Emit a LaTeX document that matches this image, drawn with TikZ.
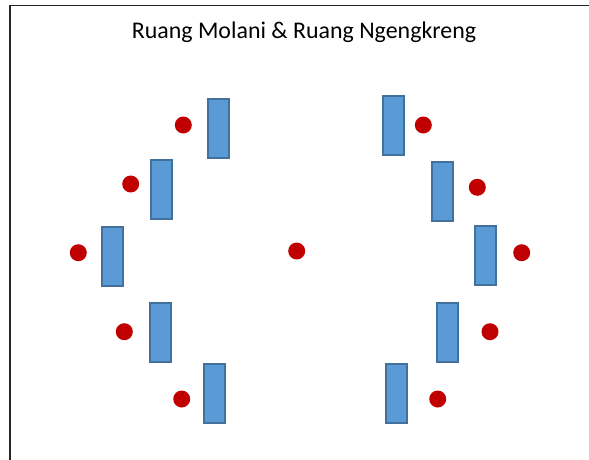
\documentclass[tikz,border=0pt]{standalone}
\usepackage{fontspec}
\setmainfont{Carlito}
\definecolor{boxfill}{RGB}{91,155,213}
\definecolor{boxline}{RGB}{65,113,156}
\definecolor{dotred}{RGB}{192,0,0}
\begin{document}
\begin{tikzpicture}[x=1pt,y=-1pt,
  seat/.style={draw=boxline,fill=boxfill,line width=2pt,minimum width=21pt,minimum height=59pt,inner sep=0pt},
  person/.style={circle,fill=dotred,draw=none,minimum size=17pt,inner sep=0pt}]
\useasboundingbox (0,0) rectangle (589,459);
\draw[line width=1.5pt,draw=black!85] (10,470) -- (10,5.5) -- (600,5.5);
\node[anchor=base,font=\fontsize{23.9}{28}\selectfont] (title) at (304,38) {Ruang Molani \& Ruang Ngengkreng};
% left seats
\node[seat] (l1) at (218,128.5) {};
\node[seat] (l2) at (161.5,189.5) {};
\node[seat] (l3) at (112.3,256.6) {};
\node[seat] (l4) at (160.3,332.3) {};
\node[seat] (l5) at (214.3,393) {};
% right seats
\node[seat] (r1) at (393.3,125.3) {};
\node[seat] (r2) at (442.3,191.3) {};
\node[seat] (r3) at (485.3,255.3) {};
\node[seat] (r4) at (447.5,332.3) {};
\node[seat] (r5) at (396.5,393) {};
% people
\node[person] (p1) at (183.3,125) {};
\node[person] (p2) at (130.7,184) {};
\node[person] (p3) at (78.3,252.7) {};
\node[person] (p4) at (124.3,331.7) {};
\node[person] (p5) at (181.7,399) {};
\node[person] (pc) at (296.7,251) {};
\node[person] (q1) at (423.3,125) {};
\node[person] (q2) at (477.3,187.3) {};
\node[person] (q3) at (521.7,252.7) {};
\node[person] (q4) at (490,331.7) {};
\node[person] (q5) at (437.7,399) {};
\end{tikzpicture}
\end{document}
